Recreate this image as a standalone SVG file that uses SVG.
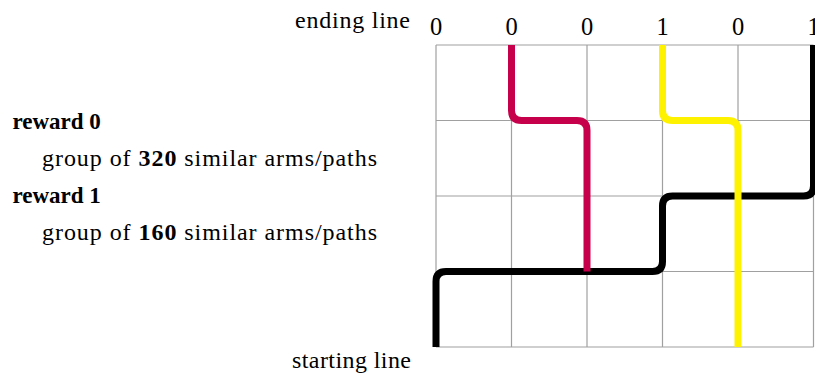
<svg xmlns="http://www.w3.org/2000/svg" width="815" height="374" viewBox="0 0 815 374">
  <style>
    .txt { font-family: "Liberation Serif", "DejaVu Serif", serif; font-size: 24px; fill: #000; }
    .bold { font-weight: bold; }
    .num { font-family: "Liberation Serif", "DejaVu Serif", serif; font-size: 24.5px; fill: #000; text-anchor: middle; }
    .grid { stroke: #a0a0a0; stroke-width: 1.2; fill: none; }
    .path { fill: none; stroke-width: 7; stroke-linecap: butt; stroke-linejoin: round; }
  </style>
  <rect width="815" height="374" fill="#fff"/>
  <g id="grid" class="grid">
    <line x1="436" y1="45" x2="436" y2="347"/>
    <line x1="511.5" y1="45" x2="511.5" y2="347"/>
    <line x1="587" y1="45" x2="587" y2="347"/>
    <line x1="662.5" y1="45" x2="662.5" y2="347"/>
    <line x1="738" y1="45" x2="738" y2="347"/>
    <line x1="813.5" y1="45" x2="813.5" y2="347"/>
    <line x1="436" y1="45" x2="813.5" y2="45"/>
    <line x1="436" y1="120.5" x2="813.5" y2="120.5"/>
    <line x1="436" y1="196" x2="813.5" y2="196"/>
    <line x1="436" y1="271.5" x2="813.5" y2="271.5"/>
    <line x1="436" y1="347" x2="813.5" y2="347"/>
  </g>
  <g id="connectors">
    <path id="path-black" class="path" stroke="#000" d="M436,347 V281.5 Q436,271.5 446,271.5 H652.5 Q662.5,271.5 662.5,261.5 V206 Q662.5,196 672.5,196 H803.5 Q813.5,196 813.5,186 V45"/>
    <path id="path-red" class="path" stroke="#c6004a" d="M511.5,45 V110.5 Q511.5,120.5 521.5,120.5 H577 Q587,120.5 587,130.5 V271.5"/>
    <path id="path-yellow" class="path" stroke="#fff200" d="M662.5,45 V110.5 Q662.5,120.5 672.5,120.5 H728 Q738,120.5 738,130.5 V347"/>
  </g>
  <g id="ending-labels">
    <text class="txt" x="295" y="28" textLength="115" lengthAdjust="spacing">ending line</text>
    <text class="num" x="436" y="35">0</text>
    <text class="num" x="511.5" y="35">0</text>
    <text class="num" x="587" y="35">0</text>
    <text class="num" x="662.5" y="35">1</text>
    <text class="num" x="738" y="35">0</text>
    <text class="num" x="813.5" y="35">1</text>
  </g>
  <g id="starting-label">
    <text class="txt" x="292" y="368" textLength="119" lengthAdjust="spacing">starting line</text>
  </g>
  <g id="legend-reward0">
    <text class="txt bold" x="12.5" y="129" style="font-size:23px">reward 0</text>
    <text class="txt" x="42" y="166" textLength="335" lengthAdjust="spacing">group of <tspan class="bold">320</tspan> similar arms/paths</text>
  </g>
  <g id="legend-reward1">
    <text class="txt bold" x="12.5" y="203" style="font-size:23px">reward 1</text>
    <text class="txt" x="42" y="240" textLength="335" lengthAdjust="spacing">group of <tspan class="bold">160</tspan> similar arms/paths</text>
  </g>
</svg>
